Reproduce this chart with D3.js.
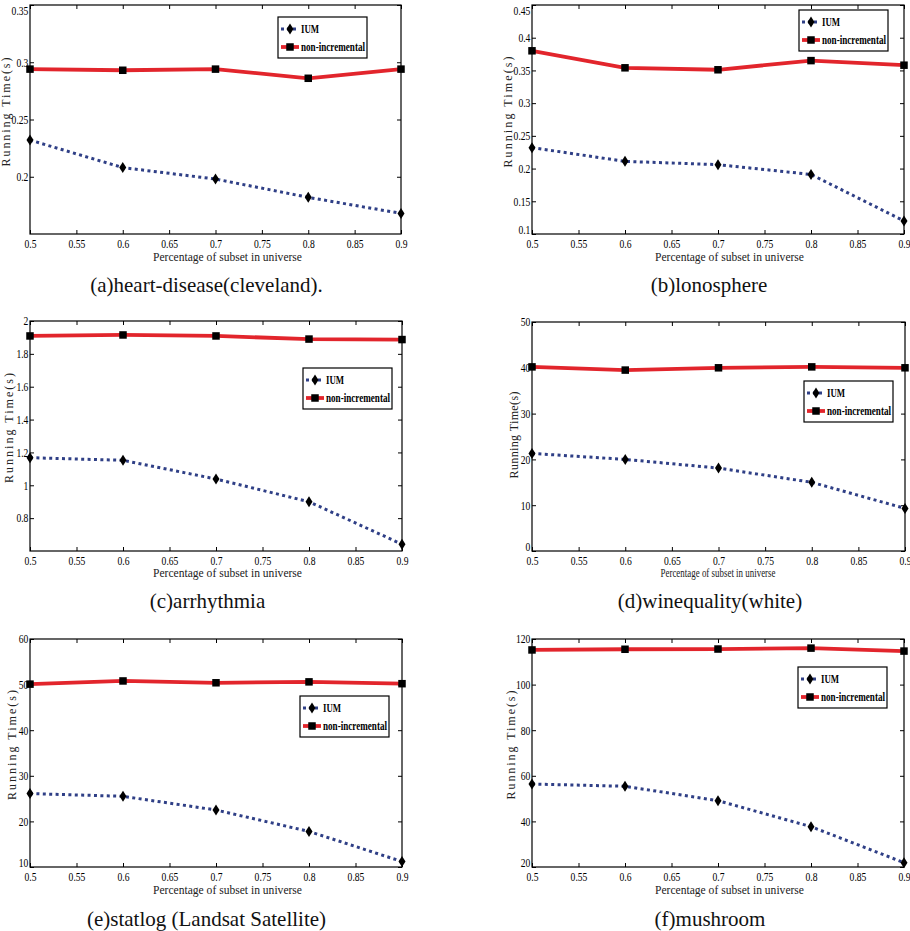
<!DOCTYPE html>
<html>
<head>
<meta charset="utf-8">
<script src="https://cdn.jsdelivr.net/npm/d3@7.9.0/dist/d3.min.js"></script>
<style>
  body { margin: 0; background: #fff; }
  svg text { font-family: 'Liberation Serif', 'DejaVu Serif', serif; }
</style>
</head>
<body>
<svg id="chart" width="910" height="931"></svg>
<script>
// x positions (percentage of subset in universe)
const xValues = [0.5, 0.6, 0.7, 0.8, 0.9];
const xTickValues = [0.5, 0.55, 0.6, 0.65, 0.7, 0.75, 0.8, 0.85, 0.9];
const seriesNames = ['IUM', 'non-incremental'];

const captions = [
  '(a)heart-disease(cleveland).',
  '(b)lonosphere',
  '(c)arrhythmia',
  '(d)winequality(white)',
  '(e)statlog (Landsat Satellite)',
  '(f)mushroom',
];

// running times
const iumHeart = [0.232, 0.208, 0.198, 0.182, 0.168];
const nonHeart = [0.294, 0.293, 0.294, 0.286, 0.294];
const iumIono = [0.232, 0.211, 0.206, 0.191, 0.120];
const nonIono = [0.380, 0.354, 0.351, 0.365, 0.358];
const iumArrh = [1.168, 1.152, 1.038, 0.900, 0.641];
const nonArrh = [1.909, 1.915, 1.909, 1.890, 1.887];
const iumWine = [21.3, 20.0, 18.1, 15.0, 9.3];
const nonWine = [40.2, 39.5, 40.0, 40.2, 40.0];
const iumStat = [26.1, 25.5, 22.5, 17.8, 11.2];
const nonStat = [50.1, 50.8, 50.4, 50.6, 50.2];
const iumMush = [56.4, 55.4, 49.1, 37.7, 21.9];
const nonMush = [115.2, 115.5, 115.6, 116.0, 114.7];

const yDomains = [
  [0.15, 0.35], [0.1, 0.45], [0.6, 2], [0, 50], [10, 60], [20, 120],
];
const yTickValues = [
  [0.2, 0.25, 0.3, 0.35],
  [0.1, 0.15, 0.2, 0.25, 0.3, 0.35, 0.4, 0.45],
  [0.8, 1, 1.2, 1.4, 1.6, 1.8, 2],
  [0, 10, 20, 30, 40, 50],
  [10, 20, 30, 40, 50, 60],
  [20, 40, 60, 80, 100, 120],
];

const iumSeries = [iumHeart, iumIono, iumArrh, iumWine, iumStat, iumMush];
const nonSeries = [nonHeart, nonIono, nonArrh, nonWine, nonStat, nonMush];

// panel boxes and decorations (pixel layout)
const layout = [
  { l: 30, r: 401, t: 5, b: 234, leg: [278, 17], yl: [6, 112, 109], xl: [227.5, 257, 149], cap: [206.5, 292] },
  { l: 532, r: 904, t: 5, b: 234, leg: [799, 10], yl: [508, 112, 111], xl: [729.5, 257, 149], cap: [709, 292] },
  { l: 30, r: 402, t: 321, b: 551, leg: [303, 368], yl: [9, 428, 110], xl: [227.5, 573, 149], cap: [207.5, 608] },
  { l: 532, r: 905, t: 322, b: 551, leg: [804, 381], yl: [514, 435, 87], xl: [718, 573, 115], cap: [710, 608] },
  { l: 30, r: 402, t: 639, b: 867, leg: [300, 696], yl: [12, 745, 110], xl: [227.5, 890, 149], cap: [206.5, 926] },
  { l: 532, r: 904, t: 639, b: 867, leg: [798, 667], yl: [511, 745, 109], xl: [729.5, 890, 149], cap: [710, 926] },
];

const red = '#e2252c';
const blue = '#2f3f86';
const serif = "'Liberation Serif', 'DejaVu Serif', serif";

const svg = d3.select('#chart');

function diamond(g, x, y) {
  g.append('path')
    .attr('d', `M${x},${y - 5.5}L${x + 3.5},${y}L${x},${y + 5.5}L${x - 3.5},${y}Z`)
    .attr('fill', '#000');
}

function square(g, x, y) {
  g.append('rect')
    .attr('x', x - 3.75).attr('y', y - 3.75)
    .attr('width', 7.5).attr('height', 7.5)
    .attr('fill', '#000');
}

function styleTicks(sel) {
  sel.attr('font-family', serif);
  sel.selectAll('.tick text')
    .attr('font-size', 12)
    .attr('fill', '#000')
    .attr('transform', 'scale(0.8,1)');
}

layout.forEach((p, i) => {
  let x = d3.scaleLinear().domain([0.5, 0.9]).range([p.l, p.r]);
  let y = d3.scaleLinear().domain(yDomains[i]).range([p.b, p.t]);
  let g = svg.append('g').attr('font-family', serif);
  let fmt = d3.format('~g');

  // axes with inward ticks on all four sides
  let bottom = g.append('g').attr('transform', `translate(0,${p.b})`)
    .call(d3.axisBottom(x).tickValues(xTickValues).tickFormat(fmt).tickSizeInner(-4).tickSizeOuter(0).tickPadding(5));
  let top = g.append('g').attr('transform', `translate(0,${p.t})`)
    .call(d3.axisTop(x).tickValues(xTickValues).tickFormat('').tickSizeInner(-4).tickSizeOuter(0));
  let left = g.append('g').attr('transform', `translate(${p.l},0)`)
    .call(d3.axisLeft(y).tickValues(yTickValues[i]).tickFormat(fmt).tickSizeInner(-4).tickSizeOuter(0).tickPadding(2));
  let right = g.append('g').attr('transform', `translate(${p.r},0)`)
    .call(d3.axisRight(y).tickValues(yTickValues[i]).tickFormat('').tickSizeInner(-4).tickSizeOuter(0));
  [bottom, top, left, right].forEach((a) => {
    a.select('.domain').remove();
    a.selectAll('.tick line').attr('stroke', '#000').attr('stroke-width', 1);
  });
  styleTicks(bottom);
  styleTicks(left);

  // keep the edge labels inside the page and clear of the x labels
  let yd = yDomains[i];
  left.selectAll('.tick text')
    .attr('dy', (d) => (d === yd[0] ? '-0.05em' : y(d) < 10 ? '0.75em' : '0.32em'));

  g.append('rect')
    .attr('x', p.l).attr('y', p.t)
    .attr('width', p.r - p.l).attr('height', p.b - p.t)
    .attr('fill', 'none').attr('stroke', '#000').attr('stroke-width', 1.2);

  // lines
  let line = d3.line().x((d, j) => x(xValues[j])).y((d) => y(d));
  g.append('path').datum(nonSeries[i])
    .attr('d', line).attr('fill', 'none')
    .attr('stroke', red).attr('stroke-width', 3.8);
  g.append('path').datum(iumSeries[i])
    .attr('d', line).attr('fill', 'none')
    .attr('stroke', blue).attr('stroke-width', 3)
    .attr('stroke-dasharray', '3,3.4');

  nonSeries[i].forEach((d, j) => square(g, x(xValues[j]), y(d)));
  iumSeries[i].forEach((d, j) => diamond(g, x(xValues[j]), y(d)));

  // axis titles
  g.append('text')
    .attr('x', p.xl[0]).attr('y', p.xl[1] + 4)
    .attr('text-anchor', 'middle')
    .attr('font-family', serif).attr('font-size', 12)
    .attr('textLength', p.xl[2]).attr('lengthAdjust', 'spacingAndGlyphs')
    .attr('fill', '#222')
    .text('Percentage of subset in universe');

  g.append('text')
    .attr('transform', `translate(${p.yl[0] + 4},${p.yl[1]}) rotate(-90)`)
    .attr('text-anchor', 'middle')
    .attr('font-family', serif).attr('font-size', 12)
    .attr('textLength', p.yl[2]).attr('lengthAdjust', 'spacing')
    .attr('fill', '#222')
    .text('Running Time(s)');

  // legend
  let lg = g.append('g').attr('transform', `translate(${p.leg[0]},${p.leg[1]})`);
  lg.append('rect')
    .attr('width', 89).attr('height', 41)
    .attr('fill', '#fff').attr('stroke', '#000').attr('stroke-width', 1.2);
  lg.append('line')
    .attr('x1', 3).attr('x2', 21).attr('y1', 12).attr('y2', 12)
    .attr('stroke', blue).attr('stroke-width', 3).attr('stroke-dasharray', '3,3');
  diamond(lg, 12, 12);
  lg.append('line')
    .attr('x1', 3).attr('x2', 21).attr('y1', 30).attr('y2', 30)
    .attr('stroke', red).attr('stroke-width', 3.8);
  square(lg, 12, 30);
  lg.append('text')
    .attr('x', 23).attr('y', 16)
    .attr('font-family', serif).attr('font-size', 12).attr('font-weight', 'bold')
    .attr('textLength', 18).attr('lengthAdjust', 'spacingAndGlyphs')
    .text(seriesNames[0]);
  lg.append('text')
    .attr('x', 23).attr('y', 34)
    .attr('font-family', serif).attr('font-size', 12).attr('font-weight', 'bold')
    .attr('textLength', 64).attr('lengthAdjust', 'spacingAndGlyphs')
    .text(seriesNames[1]);

  // caption
  g.append('text')
    .attr('x', p.cap[0]).attr('y', p.cap[1])
    .attr('text-anchor', 'middle')
    .attr('font-family', serif).attr('font-size', 21)
    .attr('fill', '#111')
    .text(captions[i]);
});
</script>
</body>
</html>
